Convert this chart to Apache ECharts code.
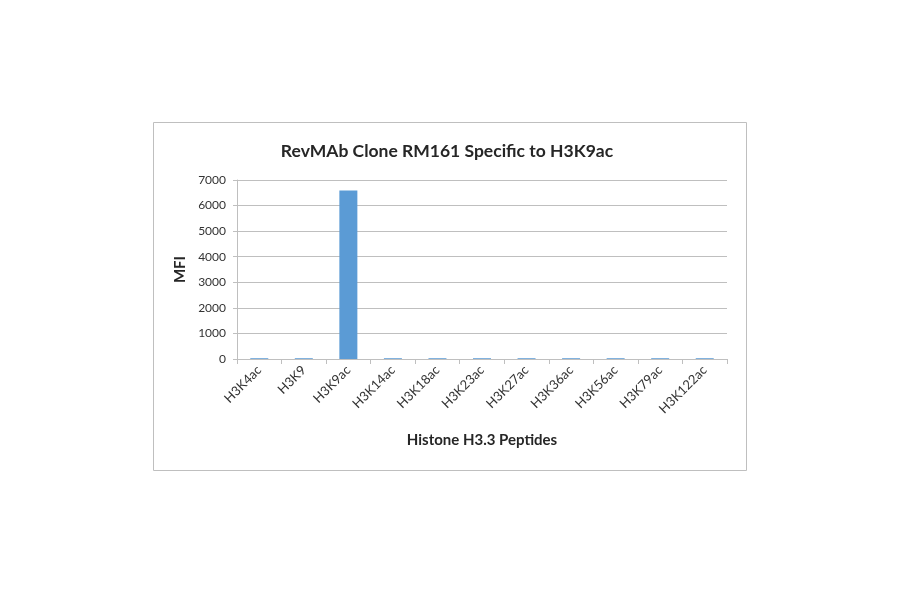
<!DOCTYPE html>
<html>
<head>
<meta charset="utf-8">
<script src="https://cdn.jsdelivr.net/npm/echarts@6/dist/echarts.min.js"></script>
<style>
html,body{margin:0;padding:0;background:#fff;}
#chart{width:900px;height:594px;}
</style>
</head>
<body>
<div id="chart"></div>
<script>
var categories = ['H3K4ac','H3K9','H3K9ac','H3K14ac','H3K18ac','H3K23ac','H3K27ac','H3K36ac','H3K56ac','H3K79ac','H3K122ac'];
var mfiValues = [30, 30, 6590, 30, 30, 30, 30, 30, 30, 30, 30];
var yTicks = {min: 0, max: 7000, interval: 1000};
var titleText = 'RevMAb Clone RM161 Specific to H3K9ac';
var xAxisName = 'Histone H3.3 Peptides';
var yAxisName = 'MFI';

var chart = echarts.init(document.getElementById('chart'));
var font = 'Lato, "Open Sans", sans-serif';
chart.setOption({
  animation: false,
  title: {
    text: titleText,
    left: 442, top: 137, textAlign: 'center',
    textStyle: {fontFamily: font, fontSize: 17.5, fontWeight: 'bold', color: '#262626'}
  },
  graphic: [{
    type: 'rect', z: -1,
    shape: {x: 153.5, y: 122.5, width: 593, height: 348},
    style: {fill: 'none', stroke: '#bfbfbf', lineWidth: 1}
  }],
  grid: {left: 237, right: 173, top: 180, bottom: 235, containLabel: false},
  xAxis: {
    type: 'category',
    data: categories,
    name: xAxisName,
    nameLocation: 'middle',
    nameGap: 74,
    nameTextStyle: {fontFamily: font, fontSize: 15, fontWeight: 'bold', color: '#262626'},
    axisLine: {lineStyle: {color: '#bfbfbf'}},
    axisTick: {show: true, alignWithLabel: false, length: 5, lineStyle: {color: '#bfbfbf'}},
    axisLabel: {rotate: 45, interval: 0, fontFamily: font, fontSize: 13, color: '#333333', margin: 9}
  },
  yAxis: {
    type: 'value',
    min: yTicks.min, max: yTicks.max, interval: yTicks.interval,
    name: yAxisName,
    nameLocation: 'middle',
    nameGap: 45,
    nameRotate: 90,
    nameTextStyle: {fontFamily: font, fontSize: 15, fontWeight: 'bold', color: '#262626'},
    axisLine: {show: true, lineStyle: {color: '#bfbfbf'}},
    axisTick: {show: true, length: 4, lineStyle: {color: '#bfbfbf'}},
    axisLabel: {fontFamily: font, fontSize: 12, color: '#333333', margin: 11,
      formatter: function (v) { return String(v); }},
    splitLine: {lineStyle: {color: '#bfbfbf'}}
  },
  series: [{
    type: 'bar',
    data: mfiValues,
    barWidth: 18,
    itemStyle: {color: '#5b9bd5'}
  }]
});
</script>
</body>
</html>
